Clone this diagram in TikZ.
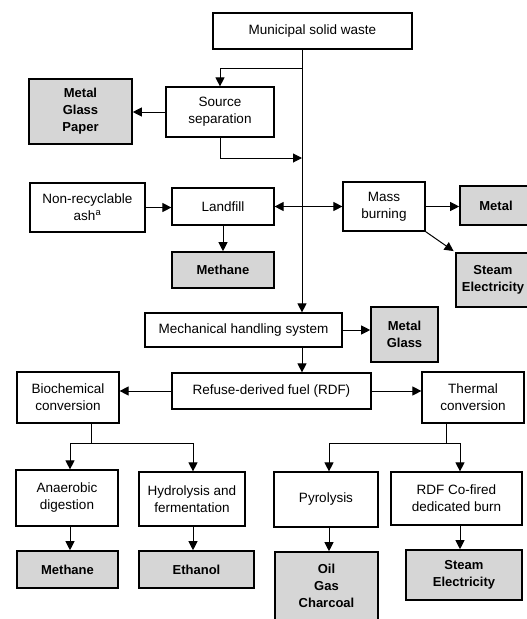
\documentclass[tikz,border=0pt]{standalone}
\usepackage{fontspec}
\setmainfont{Liberation Sans}
\usepackage{tikz}
\usetikzlibrary{arrows.meta}

\tikzset{
  box/.style={draw, line width=1.2pt, align=center, inner sep=0pt, font=\fontsize{13.5}{17}\selectfont},
  prod/.style={box, line width=1.6pt, fill=gray!32, font=\fontsize{13}{17}\selectfont\bfseries},
  arr/.style={line width=1pt, -{Triangle[length=9pt,width=9pt]}},
  dbl/.style={line width=1pt, {Triangle[length=9pt,width=9pt]}-{Triangle[length=9pt,width=9pt]}}
}

\begin{document}
\begin{tikzpicture}[x=1pt,y=-1pt]
\useasboundingbox (0,0) rectangle (527,619);
\clip (0,0) rectangle (527,619);

\node[box, minimum width=199, minimum height=36] (msw) at (312.5,31) {Municipal solid waste};
\node[box, minimum width=108, minimum height=50] (src) at (220,112) {Source\\separation};
\node[prod, minimum width=103, minimum height=65] (mgp) at (80.5,111.5) {Metal\\Glass\\Paper};
\node[box, minimum width=115, minimum height=49] (ash) at (87.5,207.5) {Non-recyclable\\ash\textsuperscript{a}};
\node[box, minimum width=102, minimum height=37] (landfill) at (223,206.5) {Landfill};
\node[box, minimum width=82, minimum height=49] (mass) at (384,206.5) {Mass\\burning};
\node[prod, minimum width=72, minimum height=39] (metal) at (496,205.5) {Metal};
\node[prod, minimum width=74, minimum height=54] (steam) at (493,280) {Steam\\Electricity};
\node[prod, minimum width=102, minimum height=36] (meth) at (223,270) {Methane};
\node[box, minimum width=197, minimum height=34] (mech) at (243.5,330) {Mechanical handling system};
\node[prod, minimum width=67, minimum height=55] (mg) at (404.5,334.5) {Metal\\Glass};
\node[box, minimum width=199, minimum height=36] (rdf) at (271.5,391) {Refuse-derived fuel (RDF)};
\node[box, minimum width=102, minimum height=51] (bio) at (68,397.5) {Biochemical\\conversion};
\node[box, minimum width=102, minimum height=51] (thermal) at (473,397.5) {Thermal\\conversion};
\node[box, minimum width=102, minimum height=56] (anaer) at (67,498) {Anaerobic\\digestion};
\node[box, minimum width=106, minimum height=54] (hydro) at (192,499) {Hydrolysis and\\fermentation};
\node[box, minimum width=104, minimum height=55] (pyro) at (326,499.5) {Pyrolysis};
\node[box, minimum width=131, minimum height=53] (cofire) at (456.5,498.5) {RDF Co-fired\\dedicated burn};
\node[prod, minimum width=101, minimum height=37] (meth2) at (67.5,569.5) {Methane};
\node[prod, minimum width=115, minimum height=37] (ethanol) at (196.5,569.5) {Ethanol};
\node[prod, minimum width=103, minimum height=68] (ogc) at (326.5,586) {Oil\\Gas\\Charcoal};
\node[prod, minimum width=116, minimum height=50] (steam2) at (464,575) {Steam\\Electricity};

\coordinate (trunk) at (302,0);
\coordinate (split) at (302,68);
\coordinate (join) at (302,158);
\coordinate (bs) at (91,443);
\coordinate (ts) at (446,443);

\draw[arr] (msw.south -| trunk) -- (mech.north -| trunk);
\draw[arr] (split) -| (src.north);
\draw[arr] (src.west) -- (src.west -| mgp.east);
\draw[arr] (src.south) |- (join);
\draw[arr] (ash.east) -- (ash.east -| landfill.west);
\draw[dbl] (landfill.east) -- (mass.west);
\draw[arr] (mass.east) -- (mass.east -| metal.west);
\draw[arr, shorten >=2pt] (mass.south east) -- (steam.north west);
\draw[arr] (landfill.south) -- (meth.north);
\draw[arr] (mech.east) -- (mech.east -| mg.west);
\draw[arr] (mech.south -| trunk) -- (rdf.north -| trunk);
\draw[arr] (rdf.west) -- (rdf.west -| bio.east);
\draw[arr] (rdf.east) -- (rdf.east -| thermal.west);
\draw[line width=1pt] (bio.south -| bs) -- (bs);
\draw[arr] (bs) -| (70,0 |- anaer.north);
\draw[arr] (bs) -| (193,0 |- hydro.north);
\draw[line width=1pt] (thermal.south -| ts) -- (ts);
\draw[arr] (ts) -| (329,0 |- pyro.north);
\draw[arr] (ts) -| (460,0 |- cofire.north);
\draw[arr] (70,0 |- anaer.south) -- (70,0 |- meth2.north);
\draw[arr] (193,0 |- hydro.south) -- (193,0 |- ethanol.north);
\draw[arr] (329,0 |- pyro.south) -- (329,0 |- ogc.north);
\draw[arr] (460,0 |- cofire.south) -- (460,0 |- steam2.north);
\end{tikzpicture}
\end{document}
